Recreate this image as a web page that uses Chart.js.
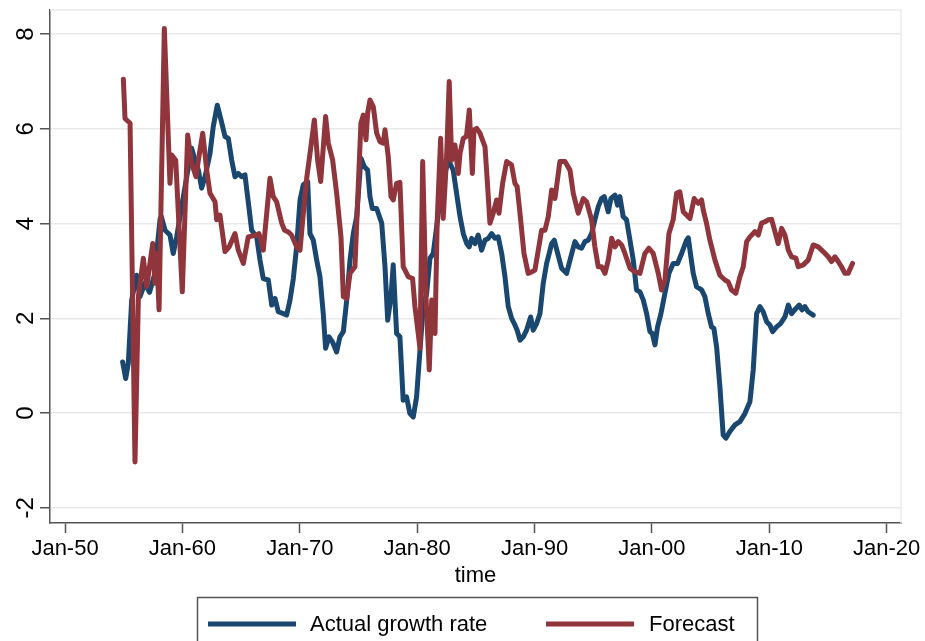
<!DOCTYPE html>
<html>
<head>
<meta charset="utf-8">
<script src="https://cdn.jsdelivr.net/npm/chart.js@4.4.1/dist/chart.umd.min.js"></script>
<style>
  html, body { margin: 0; padding: 0; background: #ffffff; }
  #wrap { width: 925px; height: 641px; position: relative; overflow: hidden; }
</style>
</head>
<body>
<div id="wrap"><canvas id="c" width="925" height="641"></canvas></div>
<script>
// ---------- DATA ----------
const seriesLabels = ['Actual growth rate', 'Forecast'];

const actualTime = [
  1954.91,1955.17,1955.39,1955.68,1956.10,1956.39,1956.80,1957.20,1957.60,1958.10,1958.20,1958.52,1958.94,1959.22,1959.51,1959.94,
  1960.37,1960.79,1961.07,1961.36,1961.64,1961.93,1962.35,1962.63,1962.97,1963.29,1963.63,1963.91,1964.20,1964.48,1964.76,1965.05,
  1965.33,1965.61,1965.90,1966.33,1966.61,1966.89,1967.32,1967.61,1967.89,1968.17,1968.60,1968.88,1969.17,1969.45,1969.73,1970.02,
  1970.30,1970.67,1970.87,1971.15,1971.44,1971.72,1972.00,1972.20,1972.49,1972.77,1973.14,1973.42,1973.71,1974.00,1974.28,1974.56,
  1974.85,1975.21,1975.50,1975.78,1975.98,1976.18,1976.55,1976.98,1977.26,1977.49,1977.77,1977.96,1978.25,1978.53,1978.81,1979.10,
  1979.38,1979.67,1979.95,1980.24,1980.52,1980.81,1981.09,1981.37,1981.80,1982.22,1982.65,1983.07,1983.36,1983.65,1983.93,1984.22,
  1984.44,1984.64,1984.92,1985.20,1985.49,1985.78,1986.06,1986.34,1986.63,1986.91,1987.20,1987.48,1987.76,1988.05,1988.33,1988.52,
  1988.76,1989.04,1989.32,1989.67,1989.89,1990.18,1990.46,1990.74,1991.03,1991.25,1991.46,1991.68,1991.97,1992.30,1992.73,1993.02,
  1993.44,1993.72,1994.01,1994.29,1994.57,1994.86,1995.14,1995.43,1995.71,1995.94,1996.28,1996.51,1996.85,1997.07,1997.27,1997.55,
  1997.84,1998.13,1998.41,1998.69,1998.98,1999.26,1999.55,1999.83,2000.03,2000.26,2000.48,2000.77,2001.11,2001.45,2001.81,2002.18,
  2002.53,2002.95,2003.10,2003.32,2003.52,2003.80,2004.23,2004.51,2004.80,2005.08,2005.28,2005.51,2005.79,2006.07,2006.30,2006.64,
  2007.07,2007.50,2007.92,2008.35,2008.63,2008.92,2009.20,2009.48,2009.77,2010.05,2010.28,2010.62,2010.96,2011.33,2011.62,2011.90,
  2012.27,2012.55,2012.80,2013.03,2013.31,2013.74
];
const actualGrowth = [
  1.08,0.73,1.05,2.39,2.91,2.46,2.75,2.55,2.90,4.10,4.15,3.86,3.76,3.37,3.72,4.36,
  4.99,5.59,5.34,5.13,4.75,4.99,5.48,6.05,6.50,6.19,5.84,5.80,5.34,4.99,5.06,4.99,
  5.03,4.46,3.86,3.72,3.23,2.84,2.81,2.28,2.42,2.14,2.10,2.07,2.39,2.84,3.51,4.50,
  4.82,4.89,3.79,3.65,3.23,2.88,2.10,1.37,1.61,1.51,1.29,1.61,1.72,2.39,3.23,3.79,
  4.15,5.38,5.20,5.13,4.57,4.32,4.32,4.01,3.09,1.96,2.46,3.13,1.68,1.61,0.27,0.34,
  -0.01,-0.08,0.34,1.33,2.25,2.53,3.27,3.37,4.22,4.92,5.34,5.13,4.64,4.15,3.79,3.58,
  3.51,3.69,3.58,3.76,3.44,3.65,3.69,3.79,3.69,3.72,3.37,2.88,2.25,2.00,1.86,1.75,
  1.54,1.61,1.75,2.03,1.75,1.89,2.10,2.74,3.16,3.37,3.58,3.65,3.37,3.06,2.95,3.23,
  3.62,3.51,3.48,3.62,3.65,3.79,4.08,4.36,4.53,4.57,4.25,4.53,4.60,4.39,4.57,4.15,
  4.08,3.65,3.23,2.60,2.56,2.39,2.10,1.72,1.68,1.44,1.82,2.10,2.53,2.95,3.16,3.16,
  3.37,3.65,3.70,3.30,2.95,2.67,2.60,2.46,2.10,1.82,1.79,1.40,0.56,-0.46,-0.53,-0.39,
  -0.25,-0.18,-0.01,0.24,0.91,2.10,2.25,2.14,1.93,1.86,1.72,1.82,1.89,2.03,2.28,2.10,
  2.21,2.28,2.18,2.25,2.14,2.07
];

const forecastTime = [
  1954.97,1955.11,1955.54,1955.96,1956.25,1956.67,1956.96,1957.47,1957.67,1957.81,1958.01,1958.46,1958.94,1959.09,1959.43,1959.99,
  1960.45,1960.79,1961.16,1961.36,1961.73,1962.07,1962.35,1962.78,1962.92,1963.20,1963.63,1963.99,1964.48,1964.76,1965.19,1965.61,
  1966.33,1966.52,1966.89,1967.46,1967.74,1968.03,1968.46,1968.70,1968.99,1969.30,1969.73,1970.02,1970.30,1970.59,1970.87,1971.24,
  1971.52,1971.78,1972.20,1972.43,1972.80,1973.14,1973.51,1973.71,1974.00,1974.28,1974.70,1974.98,1975.21,1975.41,1975.64,1975.78,
  1975.98,1976.26,1976.55,1976.83,1977.11,1977.26,1977.54,1977.77,1977.96,1978.25,1978.53,1978.81,1979.24,1979.61,1979.81,1980.09,
  1980.24,1980.47,1980.75,1981.03,1981.24,1981.52,1981.71,1982.00,1982.22,1982.51,1982.73,1982.94,1983.22,1983.50,1983.65,1983.93,
  1984.20,1984.44,1984.70,1984.84,1985.07,1985.35,1985.78,1985.97,1986.20,1986.48,1986.77,1986.97,1987.28,1987.62,1988.04,1988.33,
  1988.52,1988.76,1989.10,1989.46,1989.75,1990.03,1990.32,1990.60,1990.89,1991.17,1991.46,1991.74,1992.16,1992.59,1993.02,1993.30,
  1993.72,1994.15,1994.44,1994.86,1995.14,1995.43,1995.71,1996.00,1996.28,1996.57,1996.85,1997.13,1997.42,1997.70,1998.13,1998.55,
  1998.98,1999.40,1999.74,2000.11,2000.54,2000.82,2001.11,2001.45,2001.81,2002.10,2002.38,2002.67,2003.24,2003.60,2003.94,2004.23,
  2004.37,2004.65,2004.94,2005.37,2005.79,2006.22,2006.50,2006.78,2007.15,2007.50,2007.78,2008.07,2008.35,2008.77,2009.06,2009.34,
  2009.63,2009.91,2010.20,2010.48,2010.76,2011.05,2011.33,2011.62,2011.90,2012.27,2012.46,2012.89,2013.31,2013.74,2014.17,2014.59,
  2015.02,2015.30,2015.59,2015.87,2016.15,2016.44,2016.72,2017.09
];
const forecastValue = [
  7.05,6.22,6.12,-1.03,2.46,3.27,2.67,3.58,2.74,3.37,2.18,8.12,4.85,5.45,5.34,2.56,
  5.87,5.27,4.99,5.34,5.91,5.13,4.64,4.46,4.08,4.18,3.41,3.51,3.79,3.44,3.16,3.72,
  3.76,3.79,3.44,4.96,4.57,4.46,4.01,3.86,3.83,3.76,3.51,3.44,4.22,4.96,5.48,6.19,
  5.34,4.89,6.26,5.70,5.34,4.64,3.72,2.46,2.42,2.95,3.09,4.78,6.12,6.29,5.77,6.33,
  6.61,6.47,5.91,5.73,5.70,5.98,5.41,4.57,4.50,4.85,4.87,3.09,2.88,2.84,2.25,1.68,
  1.37,5.31,2.46,0.91,2.39,1.68,4.08,5.80,4.11,5.41,7.00,5.34,5.66,5.06,5.48,5.80,
  5.84,6.40,5.06,5.98,6.01,5.91,5.62,4.92,4.01,4.22,4.50,4.22,4.85,5.31,5.24,4.85,
  4.78,4.22,3.37,2.95,2.98,3.02,3.44,3.86,3.86,4.15,4.71,4.53,5.31,5.31,5.13,4.64,
  4.22,4.53,4.46,4.08,3.51,3.09,3.09,2.95,3.23,3.69,3.51,3.62,3.55,3.37,3.06,2.98,
  2.95,3.37,3.48,3.37,2.95,2.60,2.81,3.79,4.08,4.64,4.67,4.25,4.11,4.53,4.43,4.50,
  4.29,4.01,3.65,3.23,2.91,2.81,2.77,2.60,2.53,2.88,3.09,3.62,3.72,3.83,3.76,4.01,
  4.04,4.08,4.09,3.83,3.58,3.90,3.76,3.44,3.30,3.27,3.09,3.13,3.23,3.55,3.51,3.41,
  3.30,3.20,3.30,3.20,3.09,2.95,2.95,3.16
];

const xTickValues = [1950, 1960, 1970, 1980, 1990, 2000, 2010, 2020];
const xTickLabels = ['Jan-50', 'Jan-60', 'Jan-70', 'Jan-80', 'Jan-90', 'Jan-00', 'Jan-10', 'Jan-20'];
const yTickValues = [-2, 0, 2, 4, 6, 8];
const yTickLabels = ['-2', '0', '2', '4', '6', '8'];
const xAxisTitle = 'time';

// ---------- STYLE ----------
const FONT = "'Liberation Sans', Arial, Helvetica, sans-serif";
const BLUE = '#1a476f';
const RED = '#90353b';
const AXIS = '#555555';

const toPoints = (xs, ys) => xs.map((x, i) => ({ x: x, y: ys[i] }));

// light frame on top / right of the plot region
const plotFrame = {
  id: 'plotFrame',
  beforeDatasetsDraw(chart) {
    const a = chart.chartArea, ctx = chart.ctx;
    ctx.save();
    ctx.strokeStyle = '#ececec';
    ctx.lineWidth = 1.5;
    ctx.beginPath();
    ctx.moveTo(a.left, a.top);
    ctx.lineTo(a.right, a.top);
    ctx.lineTo(a.right, a.bottom);
    ctx.stroke();
    ctx.restore();
  }
};

// Stata-style boxed legend below the axis title
const boxLegend = {
  id: 'boxLegend',
  afterDraw(chart, args, o) {
    const ctx = chart.ctx;
    ctx.save();
    ctx.strokeStyle = o.borderColor;
    ctx.lineWidth = 1.5;
    ctx.strokeRect(o.left, o.top, o.width, o.height);
    ctx.font = o.fontSize + 'px ' + FONT;
    ctx.textBaseline = 'middle';
    ctx.textAlign = 'left';
    o.items.forEach(it => {
      const ds = chart.data.datasets[it.dataset];
      ctx.strokeStyle = ds.borderColor;
      ctx.lineWidth = ds.borderWidth;
      ctx.lineCap = 'butt';
      ctx.beginPath();
      ctx.moveTo(it.lineX, o.rowY);
      ctx.lineTo(it.lineX + o.lineLen, o.rowY);
      ctx.stroke();
      ctx.fillStyle = '#000';
      ctx.fillText(ds.label, it.textX, o.rowY + 1);
    });
    ctx.restore();
  }
};

Chart.defaults.font.family = FONT;
Chart.defaults.color = '#000';

new Chart(document.getElementById('c'), {
  type: 'line',
  data: {
    datasets: [
      {
        label: seriesLabels[0],
        data: toPoints(actualTime, actualGrowth),
        borderColor: BLUE,
        backgroundColor: BLUE,
        borderWidth: 5,
        pointRadius: 0,
        tension: 0,
        fill: false,
        borderJoinStyle: 'round',
        borderCapStyle: 'round',
        order: 1
      },
      {
        label: seriesLabels[1],
        data: toPoints(forecastTime, forecastValue),
        borderColor: RED,
        backgroundColor: RED,
        borderWidth: 5,
        pointRadius: 0,
        tension: 0,
        fill: false,
        borderJoinStyle: 'round',
        borderCapStyle: 'round',
        order: 0
      }
    ]
  },
  options: {
    responsive: false,
    animation: false,
    devicePixelRatio: 1,
    layout: { padding: { top: 10, right: 24, left: 0, bottom: 0 } },
    plugins: {
      legend: { display: false },
      tooltip: { enabled: false },
      boxLegend: {
        left: 197.5, top: 597.5, width: 560, height: 70,
        borderColor: '#555555',
        rowY: 624, lineLen: 88, fontSize: 22,
        items: [
          { dataset: 0, lineX: 208, textX: 310 },
          { dataset: 1, lineX: 546, textX: 649 }
        ]
      }
    },
    scales: {
      x: {
        type: 'linear',
        min: 1948.72,
        max: 2021.22,
        afterBuildTicks: s => { s.ticks = xTickValues.map(v => ({ value: v })); },
        afterFit: s => { s.height = 118; },
        ticks: {
          padding: 3,
          maxRotation: 0,
          minRotation: 0,
          autoSkip: false,
          font: { size: 22 },
          color: '#000',
          callback: (v, i) => xTickLabels[i]
        },
        grid: { drawOnChartArea: false, drawTicks: true, tickLength: 10, tickColor: AXIS, tickWidth: 1.5 },
        border: { color: AXIS, width: 1.5 },
        title: {
          display: true,
          text: xAxisTitle,
          font: { size: 22 },
          color: '#000',
          padding: { top: 0, bottom: 52 }
        }
      },
      y: {
        type: 'linear',
        min: -2.32,
        max: 8.51,
        afterBuildTicks: s => { s.ticks = yTickValues.map(v => ({ value: v })); },
        afterFit: s => { s.width = 50; s.paddingTop = 0; s.paddingBottom = 0; },
        ticks: {
          minRotation: 90,
          maxRotation: 90,
          crossAlign: 'center',
          padding: 3,
          autoSkip: false,
          font: { size: 24 },
          color: '#000',
          callback: (v, i) => yTickLabels[i]
        },
        grid: { color: '#e9e9e9', lineWidth: 1.5, drawTicks: true, tickLength: 10, tickColor: AXIS, tickWidth: 1.5 },
        border: { color: AXIS, width: 1.5 }
      }
    }
  },
  plugins: [plotFrame, boxLegend]
});
</script>
</body>
</html>
